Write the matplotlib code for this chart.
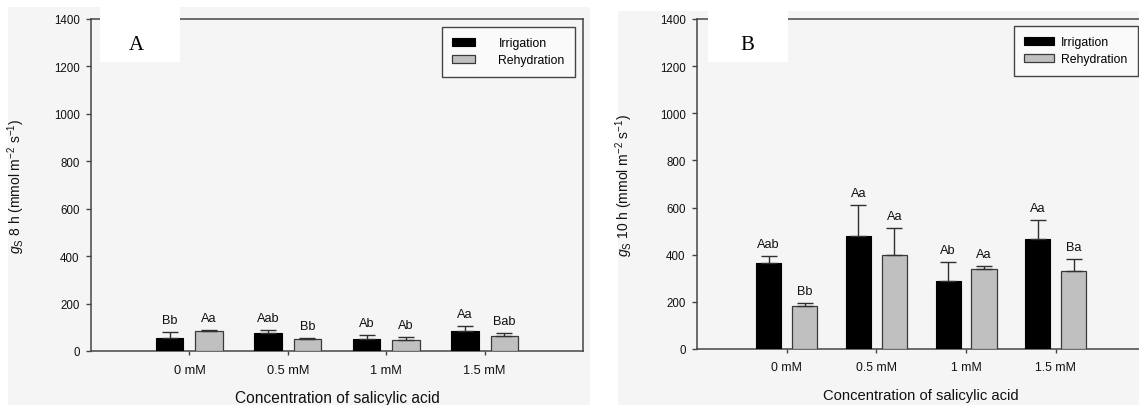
import matplotlib
matplotlib.use('Agg')
import matplotlib.pyplot as plt
from matplotlib.patches import Rectangle
import numpy as np

# ---------------- data ----------------
categories = ['0 mM', '0.5 mM', '1 mM', '1.5 mM']
series_names = ['Irrigation', 'Rehydration']

a_irrigation = [56, 77, 52, 85]
a_irrigation_err = [23, 13, 16, 19]
a_rehydration = [85, 51, 47, 64]
a_rehydration_err = [5, 5, 11, 12]
a_irr_letters = ['Bb', 'Aab', 'Ab', 'Aa']
a_reh_letters = ['Aa', 'Bb', 'Ab', 'Bab']

b_irrigation = [363, 479, 289, 465]
b_irrigation_err = [30, 132, 80, 83]
b_rehydration = [184, 400, 339, 333]
b_rehydration_err = [10, 113, 15, 50]
b_irr_letters = ['Aab', 'Aa', 'Ab', 'Aa']
b_reh_letters = ['Bb', 'Aa', 'Aa', 'Ba']

y_ticks = [0, 200, 400, 600, 800, 1000, 1200, 1400]
panel_letters = ['A', 'B']
y_labels = [r'$g_{\mathrm{S}}$ 8 h (mmol m$^{-2}$ s$^{-1}$)',
            r'$g_{\mathrm{S}}$ 10 h (mmol m$^{-2}$ s$^{-1}$)']
x_label = 'Concentration of salicylic acid'

# ---------------- style ----------------
plt.rcParams['font.family'] = ['Liberation Sans', 'DejaVu Sans']
plt.rcParams['mathtext.fontset'] = 'custom'
plt.rcParams['mathtext.rm'] = 'Liberation Sans'
plt.rcParams['mathtext.it'] = 'Liberation Sans:italic'
plt.rcParams['mathtext.bf'] = 'Liberation Sans:bold'

W, H = 1139, 406
fig = plt.figure(figsize=(W / 100, H / 100), dpi=100)
fig.patch.set_facecolor('white')

def fx(px):
    return px / W

def fy(py):
    return 1 - py / H

# panel backgrounds
fig.add_artist(Rectangle((fx(8), 0), fx(590) - fx(8), fy(8), transform=fig.transFigure,
                         facecolor='#f5f5f5', edgecolor='none', zorder=-5))
fig.add_artist(Rectangle((fx(618), 0), fx(1139) - fx(618), fy(12), transform=fig.transFigure,
                         facecolor='#f5f5f5', edgecolor='none', zorder=-5))

spine_col = '#454545'
irr_col = '#000000'
reh_col = '#c0c0c0'

panels = [
    dict(rect=(91, 20, 583, 352), irr=a_irrigation, irr_e=a_irrigation_err,
         reh=a_rehydration, reh_e=a_rehydration_err,
         irr_l=a_irr_letters, reh_l=a_reh_letters, ylab=y_labels[0],
         ylab_x=-0.13, leg_anchor=(0.984, 0.976), handlelength=1.9, handletextpad=1.9,
         xlab_size=11.2, tick_size=9.2),
    dict(rect=(697, 20, 1145.5, 350), irr=b_irrigation, irr_e=b_irrigation_err,
         reh=b_rehydration, reh_e=b_rehydration_err,
         irr_l=b_irr_letters, reh_l=b_reh_letters, ylab=y_labels[1],
         ylab_x=-0.138, leg_anchor=(0.983, 0.979), handlelength=2.45, handletextpad=0.6,
         xlab_size=10.6, tick_size=8.8),
]

x = np.arange(len(categories))
bw = 0.28
off = 0.2

for p in panels:
    l, t, r, b = p['rect']
    ax = fig.add_axes([fx(l), fy(b), fx(r) - fx(l), fy(t) - fy(b)])
    ax.set_facecolor('none')
    ax.set_xlim(-1, 4)
    ax.set_ylim(0, 1400)

    ekw = dict(ecolor='#303030', elinewidth=1.0, capsize=6, capthick=1.0)
    b1 = ax.bar(x - off, p['irr'], bw, color=irr_col, edgecolor='#000000', linewidth=0.8,
                yerr=[[0] * len(x), p['irr_e']], error_kw=ekw, label=series_names[0], zorder=3)
    b2 = ax.bar(x + off, p['reh'], bw, color=reh_col, edgecolor='#3a3a3a', linewidth=0.9,
                yerr=[[0] * len(x), p['reh_e']], error_kw=ekw, label=series_names[1], zorder=3)

    for xi, v, e, s in zip(x - off, p['irr'], p['irr_e'], p['irr_l']):
        ax.annotate(s, (xi, v + e), xytext=(0, 6.5), textcoords='offset points',
                    ha='center', va='baseline', fontsize=9.2, color='#111111')
    for xi, v, e, s in zip(x + off, p['reh'], p['reh_e'], p['reh_l']):
        ax.annotate(s, (xi, v + e), xytext=(0, 6.5), textcoords='offset points',
                    ha='center', va='baseline', fontsize=9.2, color='#111111')

    ax.set_xticks(x)
    ax.set_xticklabels(categories, fontsize=p['tick_size'], color='#111111')
    ax.set_yticks(y_ticks)
    ax.set_yticklabels([str(v) for v in y_ticks], fontsize=8.3, color='#111111')
    ax.tick_params(axis='y', direction='out', length=3.6, width=1.0, color=spine_col, pad=4.5)
    ax.tick_params(axis='x', direction='out', length=3.0, width=1.0, color=spine_col, pad=6)
    for sp in ax.spines.values():
        sp.set_color(spine_col)
        sp.set_linewidth(1.1)

    ax.set_ylabel(p['ylab'], fontsize=10, color='#111111')
    ax.yaxis.set_label_coords(p['ylab_x'], 0.5)
    ax.text(0.5, -0.139, x_label, transform=ax.transAxes, ha='center', va='center',
            fontsize=p['xlab_size'], color='#111111')

    leg = ax.legend(handles=[b1, b2], loc='upper right', bbox_to_anchor=p['leg_anchor'],
                    borderaxespad=0, fontsize=8.8, frameon=True, fancybox=False,
                    edgecolor='#454545', facecolor='#fafafa', framealpha=1,
                    handlelength=p['handlelength'], handleheight=0.7,
                    handletextpad=p['handletextpad'], labelspacing=0.4, borderpad=0.85)
    leg.get_frame().set_linewidth(1.0)

# white label boxes with panel letters
boxes = [(100, 8, 180, 63, 136, 46), (708, 12, 788, 63, 747, 45)]
for (x0, y0, x1, y1, cx, cy), letter in zip(boxes, panel_letters):
    fig.add_artist(Rectangle((fx(x0), fy(y1)), fx(x1) - fx(x0), fy(y0) - fy(y1),
                             transform=fig.transFigure, facecolor='white',
                             edgecolor='none', zorder=10))
    fig.text(fx(cx), fy(cy), letter, ha='center', va='center', fontsize=15,
             family='Liberation Serif', color='black', zorder=11)

fig.savefig('out.png', dpi=100, facecolor='white')
